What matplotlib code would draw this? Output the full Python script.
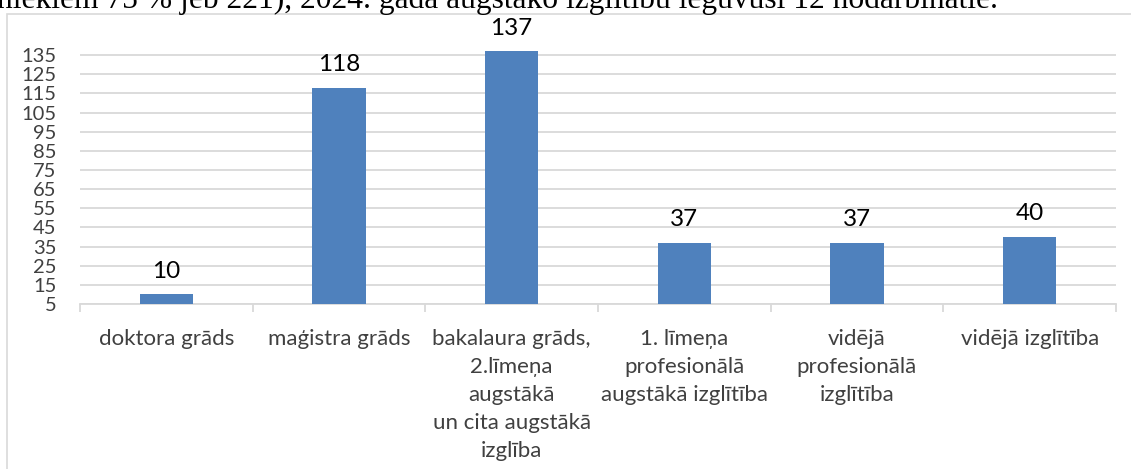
import matplotlib
matplotlib.use("Agg")
import matplotlib.pyplot as plt
from matplotlib.patches import Rectangle

categories = [
    "doktora grāds",
    "maģistra grāds",
    "bakalaura grāds,\n2.līmeņa\naugstākā\nun cita augstākā\nizglība",
    "1. līmeņa\nprofesionālā\naugstākā izglītība",
    "vidējā\nprofesionālā\nizglītība",
    "vidējā izglītība",
]
values = [10, 118, 137, 37, 37, 40]
yticks = list(range(5, 136, 10))
header = "niekiem 75 % jeb 221), 2024. gadā augstāko izglītību ieguvuši 12 nodarbinātie."

W, H = 1131, 469
fig = plt.figure(figsize=(W / 100, H / 100), dpi=100)

# chart border
fig.patches.append(Rectangle((7 / W, -0.1), 1.2, (H - 14) / H + 0.1,
                             transform=fig.transFigure, fill=False,
                             edgecolor="#d9d9d9", linewidth=1.2, zorder=0))

fig.text(-0.003, (H - 8) / H, header, fontfamily="Liberation Serif",
         fontsize=22.7, va="baseline", ha="left", color="black")

ax = fig.add_axes([80 / W, (H - 304) / H, 1036 / W, (304 - 45.5) / H])
x = list(range(len(categories)))
bars = ax.bar(x, values, width=0.31, color="#4f81bd", bottom=0, zorder=3)
ax.set_ylim(5, 140)
ax.set_xlim(-0.5, len(categories) - 0.5)

for xi, v in zip(x, values):
    ax.annotate(str(v), (xi, v), xytext=(0, 9), textcoords="offset points",
                ha="center", va="bottom", fontfamily="Lato", fontsize=17.5, color="black")

ax.set_yticks(yticks)
ax.set_yticklabels([str(t) for t in yticks], fontfamily="Lato", fontsize=14.5, color="#404040")
ax.tick_params(axis="y", length=0, pad=17)
ax.yaxis.grid(True, color="#d9d9d9", linewidth=1.3, zorder=0)

ax.set_xticks(x)
ax.set_xticklabels(categories, fontfamily="Lato", fontsize=16, color="#404040",
                   linespacing=1.5, va="top")
ax.tick_params(axis="x", which="major", length=0, pad=18)
ax.set_xticks([i - 0.5 for i in range(len(categories) + 1)], minor=True)
ax.tick_params(axis="x", which="minor", length=6, color="#d9d9d9", width=1.3)

for s in ["top", "right", "left"]:
    ax.spines[s].set_visible(False)
ax.spines["bottom"].set_color("#d9d9d9")
ax.spines["bottom"].set_linewidth(1.3)
ax.set_axisbelow(True)

fig.savefig("out.png", dpi=100)
